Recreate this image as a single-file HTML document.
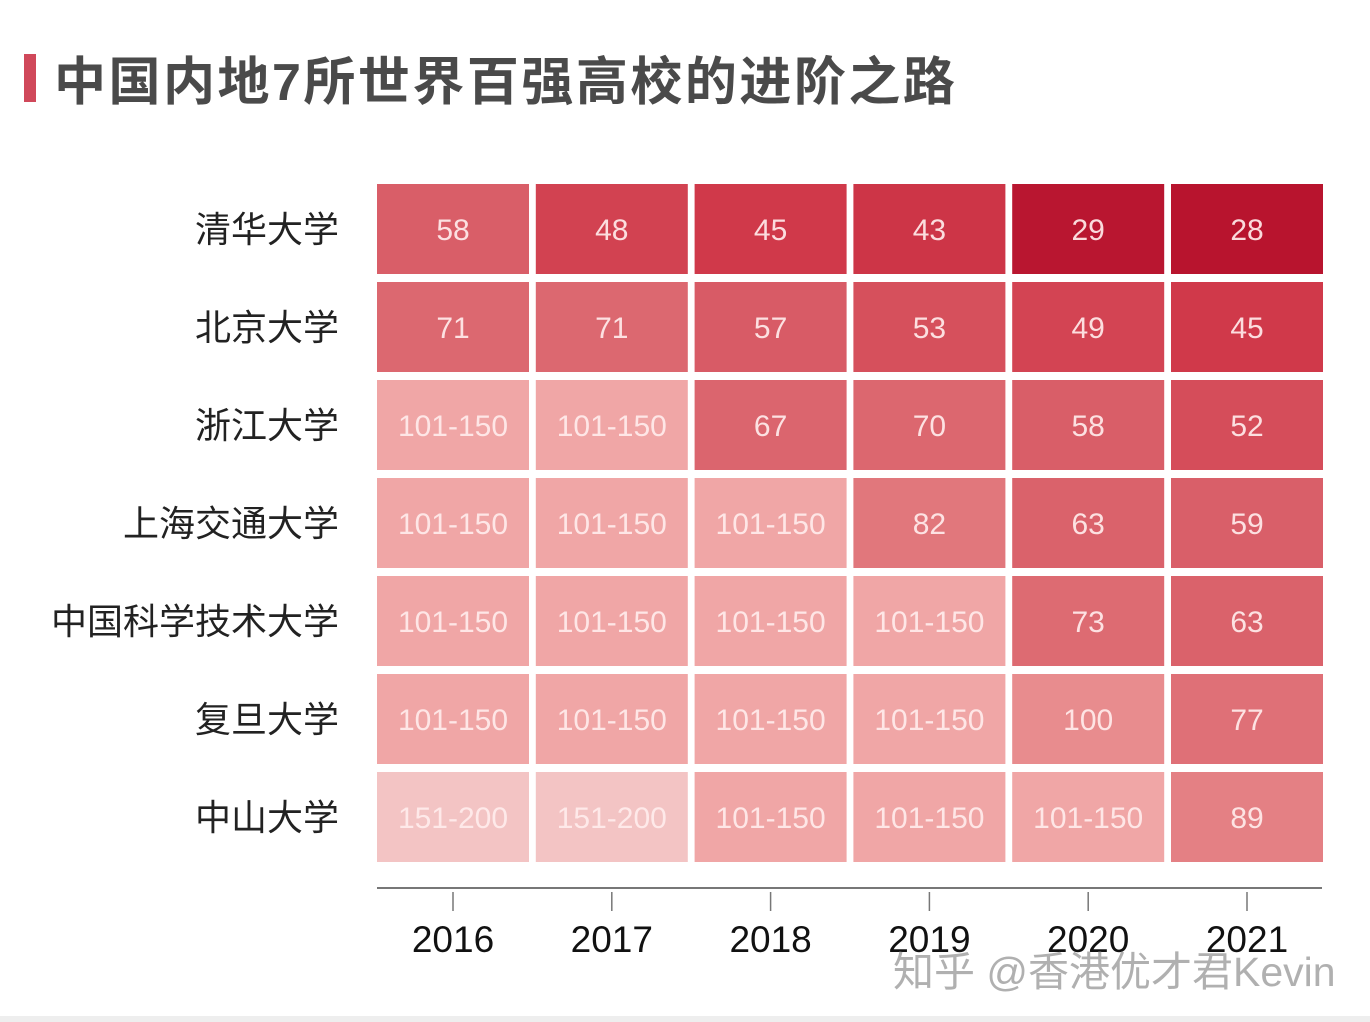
<!DOCTYPE html>
<html><head><meta charset="utf-8"><style>
body{margin:0;background:#fff;width:1370px;height:1022px;overflow:hidden;position:relative;font-family:"Liberation Sans","Noto Sans CJK SC",sans-serif}
#title{position:absolute;left:54px;top:40px;font-size:52px;font-weight:bold;color:#4a4a4a;letter-spacing:2.5px;white-space:nowrap}
#bar{position:absolute;left:24px;top:54px;width:12px;height:48px;background:#d0485a}
#wm{position:absolute;left:893px;top:938px;font-size:41px;color:rgba(150,150,150,0.75);white-space:nowrap}
#foot{position:absolute;left:0;top:1016px;width:1370px;height:6px;background:#eee}
</style></head><body>
<div id="bar"></div>
<div id="title">中国内地7所世界百强高校的进阶之路</div>
<svg id="chart" width="1370" height="1022" style="position:absolute;left:0;top:0"></svg>
<div id="wm">知乎 @香港优才君Kevin</div>
<div id="foot"></div>
<script>
const years=["2016","2017","2018","2019","2020","2021"];
const schools=["清华大学","北京大学","浙江大学","上海交通大学","中国科学技术大学","复旦大学","中山大学"];
const r0=["58","48","45","43","29","28"];
const r1=["71","71","57","53","49","45"];
const r2=["101-150","101-150","67","70","58","52"];
const r3=["101-150","101-150","101-150","82","63","59"];
const r4=["101-150","101-150","101-150","101-150","73","63"];
const r5=["101-150","101-150","101-150","101-150","100","77"];
const r6=["151-200","151-200","101-150","101-150","101-150","89"];
const ranks=[r0,r1,r2,r3,r4,r5,r6];
const NS="http://www.w3.org/2000/svg";
const svg=document.getElementById('chart');
const x0=377,colPitch=158.8,cw=152,y0=184,rowPitch=98,rh=90;
const xs=i=>x0+i*colPitch, ys=j=>y0+j*rowPitch;
const stops=[[28,[184,20,46]],[45,[208,57,74]],[58,[217,94,104]],[71,[220,104,112]],[89,[228,128,132]],[125,[240,166,166]],[175,[243,196,196]]];
function num(s){if(s.indexOf('-')>0){const p=s.split('-').map(Number);return (p[0]+p[1])/2;}return Number(s);}
function color(v){if(v<=stops[0][0])return stops[0][1];for(let k=1;k<stops.length;k++){if(v<=stops[k][0]){const a=stops[k-1],b=stops[k],t=(v-a[0])/(b[0]-a[0]);return a[1].map((c,i)=>Math.round(c+(b[1][i]-c)*t));}}return stops[stops.length-1][1];}
function mk(t,a){const e=document.createElementNS(NS,t);for(const k in a)e.setAttribute(k,a[k]);return e;}
schools.forEach((s,j)=>{
  const t=mk('text',{x:339,y:ys(j)+rh/2+13,'text-anchor':'end','font-size':36,fill:'#222'});
  
  
  t.textContent=s;svg.appendChild(t);
  ranks[j].forEach((r,i)=>{
    const c=color(num(r));
    const rect=mk('rect',{x:xs(i),y:ys(j),width:cw,height:rh,fill:`rgb(${c.join(',')})`});
    
    
    svg.appendChild(rect);
    const tx=mk('text',{x:xs(i)+cw/2,y:ys(j)+rh/2+11,'text-anchor':'middle','font-size':30,fill:'rgba(255,235,235,0.92)'});
    
    
    tx.textContent=r;svg.appendChild(tx);
  });
});
const ax=mk('line',{x1:x0,x2:1322,y1:888,y2:888,stroke:'#777','stroke-width':2});


svg.appendChild(ax);
years.forEach((y,i)=>{
  const cx=xs(i)+cw/2;
  const tk=mk('line',{x1:cx,x2:cx,y1:892,y2:911,stroke:'#777','stroke-width':1.5});
  
  
  svg.appendChild(tk);
  const t=mk('text',{x:cx,y:952,'text-anchor':'middle','font-size':37,fill:'#111'});
  
  
  t.textContent=y;svg.appendChild(t);
});
</script>
</body></html>
